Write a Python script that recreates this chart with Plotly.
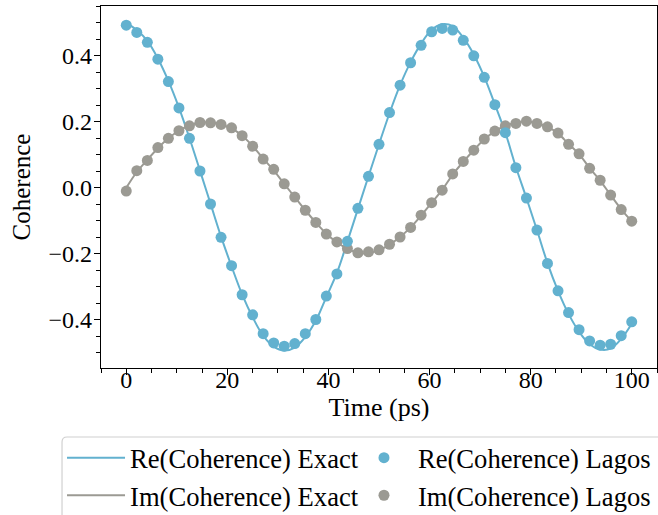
import plotly.graph_objects as go

# Time axis (ps)
time_ps = [0.0, 2.08, 4.17, 6.25, 8.33, 10.42, 12.5, 14.58, 16.67, 18.75,
           20.83, 22.92, 25.0, 27.08, 29.17, 31.25, 33.33, 35.42, 37.5, 39.58,
           41.67, 43.75, 45.83, 47.92, 50.0, 52.08, 54.17, 56.25, 58.33, 60.42,
           62.5, 64.58, 66.67, 68.75, 70.83, 72.92, 75.0, 77.08, 79.17, 81.25,
           83.33, 85.42, 87.5, 89.58, 91.67, 93.75, 95.83, 97.92, 100.0]

re_exact = [0.500, 0.478, 0.445, 0.392, 0.324, 0.243, 0.151, 0.052, -0.048, -0.148,
            -0.238, -0.323, -0.392, -0.448, -0.481, -0.493, -0.484, -0.452, -0.403, -0.331,
            -0.258, -0.163, -0.064, 0.035, 0.132, 0.226, 0.311, 0.381, 0.437, 0.479,
            0.496, 0.490, 0.455, 0.404, 0.336, 0.253, 0.167, 0.063, -0.031, -0.128,
            -0.228, -0.312, -0.382, -0.436, -0.474, -0.490, -0.487, -0.458, -0.412]

im_exact = [0.000, 0.048, 0.085, 0.120, 0.150, 0.173, 0.189, 0.198, 0.198, 0.192,
            0.180, 0.158, 0.127, 0.089, 0.053, 0.012, -0.028, -0.068, -0.105, -0.139,
            -0.165, -0.185, -0.197, -0.198, -0.189, -0.172, -0.149, -0.120, -0.084, -0.045,
            -0.006, 0.040, 0.079, 0.114, 0.147, 0.171, 0.188, 0.197, 0.201, 0.196,
            0.185, 0.165, 0.133, 0.102, 0.060, 0.022, -0.022, -0.065, -0.101]

re_lagos = [0.493, 0.471, 0.441, 0.390, 0.322, 0.242, 0.150, 0.051, -0.049, -0.150,
            -0.236, -0.324, -0.385, -0.442, -0.470, -0.480, -0.472, -0.442, -0.399, -0.328,
            -0.261, -0.162, -0.062, 0.035, 0.132, 0.228, 0.311, 0.379, 0.432, 0.473,
            0.483, 0.478, 0.447, 0.400, 0.335, 0.252, 0.167, 0.061, -0.031, -0.128,
            -0.229, -0.312, -0.378, -0.430, -0.464, -0.477, -0.474, -0.448, -0.406]

im_lagos = [-0.010, 0.052, 0.083, 0.122, 0.150, 0.173, 0.188, 0.198, 0.197, 0.192,
            0.182, 0.158, 0.126, 0.087, 0.056, 0.012, -0.028, -0.068, -0.105, -0.140,
            -0.164, -0.184, -0.197, -0.194, -0.188, -0.171, -0.149, -0.120, -0.083, -0.045,
            -0.007, 0.042, 0.080, 0.114, 0.148, 0.172, 0.188, 0.195, 0.202, 0.195,
            0.185, 0.166, 0.132, 0.103, 0.059, 0.023, -0.022, -0.066, -0.101]

BLUE = "#62B1CF"
GRAY = "#9B9A93"
FONT = "Liberation Serif, Times New Roman, serif"

fig = go.Figure()
fig.add_trace(go.Scatter(x=time_ps, y=im_exact, mode="lines", name="Im(Coherence) Exact",
                         line=dict(color=GRAY, width=2, shape="spline"),
                         legend="legend", legendrank=2))
fig.add_trace(go.Scatter(x=time_ps, y=re_exact, mode="lines", name="Re(Coherence) Exact",
                         line=dict(color=BLUE, width=2, shape="spline"),
                         legend="legend", legendrank=1))
fig.add_trace(go.Scatter(x=time_ps, y=im_lagos, mode="markers", name="Im(Coherence) Lagos",
                         marker=dict(color=GRAY, size=11), legend="legend2", legendrank=2))
fig.add_trace(go.Scatter(x=time_ps, y=re_lagos, mode="markers", name="Re(Coherence) Lagos",
                         marker=dict(color=BLUE, size=11), legend="legend2", legendrank=1))

axis_common = dict(showline=True, linecolor="black", linewidth=1.3, mirror=True,
                   showgrid=False, zeroline=False, ticks="outside", ticklen=6,
                   tickwidth=1.3, tickcolor="black",
                   tickfont=dict(family=FONT, size=24, color="black"))

fig.update_xaxes(range=[-5, 105], tick0=0, dtick=20, ticklabelstandoff=-16,
                 minor=dict(ticks="outside", dtick=5, ticklen=3.5, tickwidth=1, tickcolor="black"),
                 title=dict(text="Time (ps)", font=dict(family=FONT, size=26, color="black"), standoff=0),
                 **axis_common)
fig.update_yaxes(range=[-0.546, 0.551], tick0=0, dtick=0.2, tickformat=".1f", ticklabelstandoff=-3,
                 minor=dict(ticks="outside", dtick=0.05, ticklen=3.5, tickwidth=1, tickcolor="black"),
                 title=dict(text="Coherence", font=dict(family=FONT, size=25, color="black"), standoff=10),
                 **axis_common)

legend_common = dict(orientation="v", xanchor="left", yanchor="top", y=-0.182,
                     font=dict(family=FONT, size=26.6, color="black"),
                     borderwidth=0, bgcolor="rgba(0,0,0,0)", tracegroupgap=0, itemwidth=58)

# legend frame: light grey box with rounded top-left corner, running off the page edges
fx0, fx1 = -0.0701, 1.02
fy0, fy1 = -0.1906, -0.45
rx, ry = 5 / 556, 5 / 362
frame_path = (f"M {fx0},{fy1} L {fx0},{fy0 - ry} Q {fx0},{fy0} {fx0 + rx},{fy0} "
              f"L {fx1},{fy0} L {fx1},{fy1} Z")

fig.update_layout(
    width=658, height=515,
    margin=dict(l=101, r=1, t=6, b=147, autoexpand=False),
    plot_bgcolor="white", paper_bgcolor="white",
    font=dict(family=FONT, color="black"),
    showlegend=True,
    legend=dict(x=-0.0701, **legend_common),
    legend2=dict(x=0.4478, **legend_common),
    shapes=[dict(type="path", xref="paper", yref="paper", path=frame_path,
                 line=dict(color="#d0d0d0", width=1.2), fillcolor="rgba(0,0,0,0)",
                 layer="below")],
)

fig.write_html("out.html",
               config={"displayModeBar": False},
               post_script="document.body.style.margin='0px';document.body.style.overflow='hidden';")
